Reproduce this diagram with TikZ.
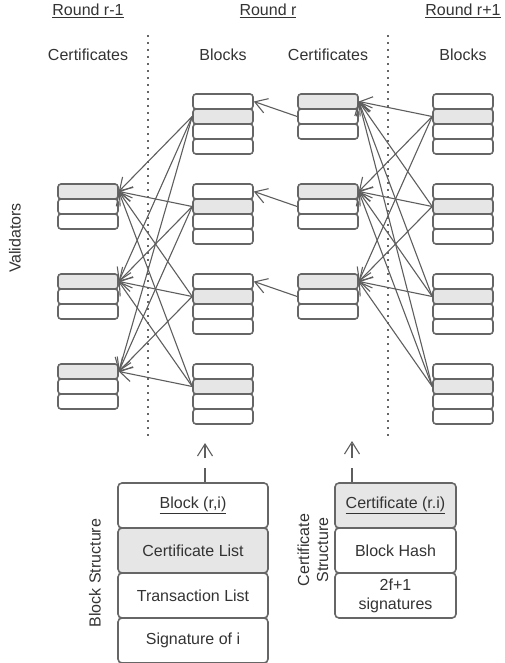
\documentclass[tikz,border=0pt]{standalone}
\usepackage{fontspec}
\setmainfont{Liberation Sans}
\usetikzlibrary{arrows.meta}
\definecolor{txt}{HTML}{333333}
\definecolor{boxline}{HTML}{666666}
\definecolor{boxfill}{HTML}{E6E6E6}
\definecolor{edge}{HTML}{5E5E5E}
\tikzset{
  slot/.style = {draw = boxline, line width = 1.6pt, rounded corners = 3pt, minimum width = 60pt, minimum height = 15pt, inner sep = 0pt},
  part/.style = {draw = boxline, line width = 1.6pt, rounded corners = 4pt, minimum height = 45pt, inner sep = 0pt, align = center},
  link/.style = {draw = edge, line width = 1.1pt, -{Straight Barb[length = 12pt, width = 15pt]}},
  divider/.style = {draw = boxline, line width = 1.3pt, dash pattern = on 2pt off 5pt},
}
\begin{document}
\begin{tikzpicture}[x = 1pt, y = -1pt, font = \fontsize{16}{19}\selectfont, text = txt]
  \useasboundingbox (0, 0) rectangle (505, 663);
  \node (round0) at (88, 11) {\underline{Round r-1}};
  \node (round1) at (268, 11) {\underline{Round r}};
  \node (round2) at (463, 11) {\underline{Round r+1}};
  \node (head0) at (88, 55) {Certificates};
  \node (head1) at (223, 55) {Blocks};
  \node (head2) at (328, 55) {Certificates};
  \node (head3) at (463, 55) {Blocks};
  \node [rotate = 90] (validators) at (15, 238) {Validators};
  \draw [divider] (148, 35) -- (148, 440);
  \draw [divider] (388, 35) -- (388, 440);
  \foreach \s/\y in {1/184, 2/274, 3/364}
    \foreach \r/\f in {1/boxfill, 2/white, 3/white} {
      \node [slot, fill = \f] (prev\s-\r) at (88, \y + 15*\r - 7.5) {};
      \node [slot, fill = \f] (cert\s-\r) at (328, \y - 90 + 15*\r - 7.5) {};
    }
  \foreach \s/\y in {1/94, 2/184, 3/274, 4/364}
    \foreach \r/\f in {1/white, 2/boxfill, 3/white, 4/white} {
      \node [slot, fill = \f] (blk\s-\r) at (223, \y + 15*\r - 7.5) {};
      \node [slot, fill = \f] (next\s-\r) at (463, \y + 15*\r - 7.5) {};
    }
  \foreach \b in {1,...,4}
    \foreach \c in {1,2,3} {
      \draw [link] (blk\b-2.west) -- (prev\c-1.east);
      \draw [link] (next\b-2.west) -- (cert\c-1.east);
    }
  \foreach \c in {1,2,3}
    \draw [link] (cert\c-2.west) -- (blk\c-1.east);
  \node [part, minimum width = 150pt] (bs1) at (193, 505.5) {\underline{Block (r,i)}};
  \node [part, minimum width = 150pt, fill = boxfill] (bs2) at (193, 550.5) {Certificate List};
  \node [part, minimum width = 150pt] (bs3) at (193, 595.5) {Transaction List};
  \node [part, minimum width = 150pt] (bs4) at (193, 640.5) {Signature of i};
  \node [rotate = 90] (bslabel) at (95, 573) {Block Structure};
  \node [part, minimum width = 121pt, fill = boxfill] (cs1) at (395.5, 505.5) {\underline{Certificate (r.i)}};
  \node [part, minimum width = 121pt] (cs2) at (395.5, 550.5) {Block Hash};
  \node [part, minimum width = 121pt] (cs3) at (395.5, 595.5) {2f+1\\signatures};
  \node [rotate = 90, align = center] (cslabel) at (313, 550) {Certificate\\Structure};
  \coordinate (bsup) at (205, 443);
  \coordinate (csup) at (352, 441);
  \draw [link, dash pattern = on 14pt off 10pt] (bs1.north -| bsup) -- (bsup);
  \draw [link, dash pattern = on 14pt off 10pt] (cs1.north -| csup) -- (csup);
\end{tikzpicture}
\end{document}
